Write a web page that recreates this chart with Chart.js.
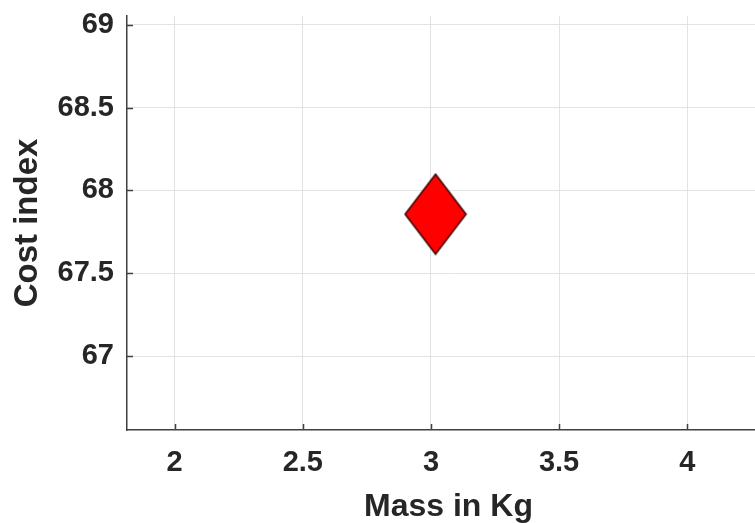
<!DOCTYPE html>
<html>
<head>
<meta charset="utf-8">
<script src="https://cdn.jsdelivr.net/npm/chart.js@4/dist/chart.umd.min.js"></script>
<style>
html, body { margin: 0; padding: 0; background: #ffffff; overflow: hidden; width: 755px; height: 523px; }
#wrap { position: relative; width: 770px; height: 526px; }
</style>
</head>
<body>
<div id="wrap"><canvas id="c" width="770" height="526"></canvas></div>
<script>
// ---- data ----
const massValues = [3.018];
const costValues = [67.857];
const xTickValues = [2, 2.5, 3, 3.5, 4];
const yTickValues = [67, 67.5, 68, 68.5, 69];
const xTitle = 'Mass in Kg';
const yTitle = 'Cost index';

// ---- diamond marker (tall diamond like MATLAB 'd') ----
function makeDiamond(w, h) {
  const cv = document.createElement('canvas');
  cv.width = w; cv.height = h;
  const g = cv.getContext('2d');
  const m = 1.5;
  g.beginPath();
  g.moveTo(w / 2, m);
  g.lineTo(w - m, h / 2);
  g.lineTo(w / 2, h - m);
  g.lineTo(m, h / 2);
  g.closePath();
  g.fillStyle = '#ff0000';
  g.fill();
  g.lineWidth = 1.5;
  g.strokeStyle = '#3a0000';
  g.stroke();
  return cv;
}
const diamond = makeDiamond(64, 83);

const fontFamily = '"Liberation Sans", Arial, Helvetica, sans-serif';
const textColor = '#262626';
const axisColor = '#404040';

const inwardTicks = {
  id: 'inwardTicks',
  afterDatasetsDraw(chart) {
    const ctx = chart.ctx;
    const xs = chart.scales.x, ys = chart.scales.y;
    const len = 6;
    ctx.save();
    ctx.strokeStyle = axisColor;
    ctx.lineWidth = 1.5;
    ctx.beginPath();
    xTickValues.forEach(v => {
      const px = Math.round(xs.getPixelForValue(v)) + 0.5;
      ctx.moveTo(px, ys.bottom);
      ctx.lineTo(px, ys.bottom - len);
    });
    yTickValues.forEach(v => {
      const py = Math.round(ys.getPixelForValue(v)) + 0.5;
      ctx.moveTo(xs.left, py);
      ctx.lineTo(xs.left + len, py);
    });
    ctx.stroke();
    ctx.restore();
  }
};

function zeroPad(s) {
  s.paddingLeft = 0; s.paddingRight = 0; s.paddingTop = 0; s.paddingBottom = 0;
}

new Chart(document.getElementById('c'), {
  type: 'scatter',
  data: {
    datasets: [{
      data: massValues.map((m, i) => ({ x: m, y: costValues[i] })),
      pointStyle: diamond,
      pointRadius: 2,
      pointHoverRadius: 2
    }]
  },
  options: {
    responsive: false,
    animation: false,
    devicePixelRatio: 1,
    layout: { autoPadding: false, padding: { top: 16, right: 0, left: 0, bottom: 0 } },
    plugins: { legend: { display: false }, tooltip: { enabled: false } },
    scales: {
      x: {
        type: 'linear',
        min: 1.814,
        max: 4.323,
        afterBuildTicks: s => { s.ticks = xTickValues.map(v => ({ value: v })); },
        afterFit: s => { s.height = 96; zeroPad(s); },
        grid: { color: '#e3e3e3', lineWidth: 1, drawTicks: false },
        border: { color: axisColor, width: 1.5 },
        ticks: {
          padding: 16,
          color: textColor,
          font: { family: fontFamily, size: 29, weight: 'bold' },
          callback: v => String(v),
          maxRotation: 0
        },
        title: {
          display: true,
          text: xTitle,
          color: textColor,
          font: { family: fontFamily, size: 32, weight: 'bold' },
          padding: { top: 0, bottom: 0 }
        }
      },
      y: {
        type: 'linear',
        min: 66.553,
        max: 69.054,
        afterBuildTicks: s => { s.ticks = yTickValues.map(v => ({ value: v })); },
        afterFit: s => { s.width = 127; zeroPad(s); },
        grid: { color: '#e3e3e3', lineWidth: 1, drawTicks: false },
        border: { color: axisColor, width: 1.5 },
        ticks: {
          padding: 13,
          color: textColor,
          font: { family: fontFamily, size: 29, weight: 'bold' },
          callback: v => String(v)
        },
        title: {
          display: true,
          text: yTitle,
          color: textColor,
          font: { family: fontFamily, size: 33, weight: 'bold' },
          padding: { top: 8, bottom: 0 }
        }
      }
    }
  },
  plugins: [inwardTicks]
});
</script>
</body>
</html>
